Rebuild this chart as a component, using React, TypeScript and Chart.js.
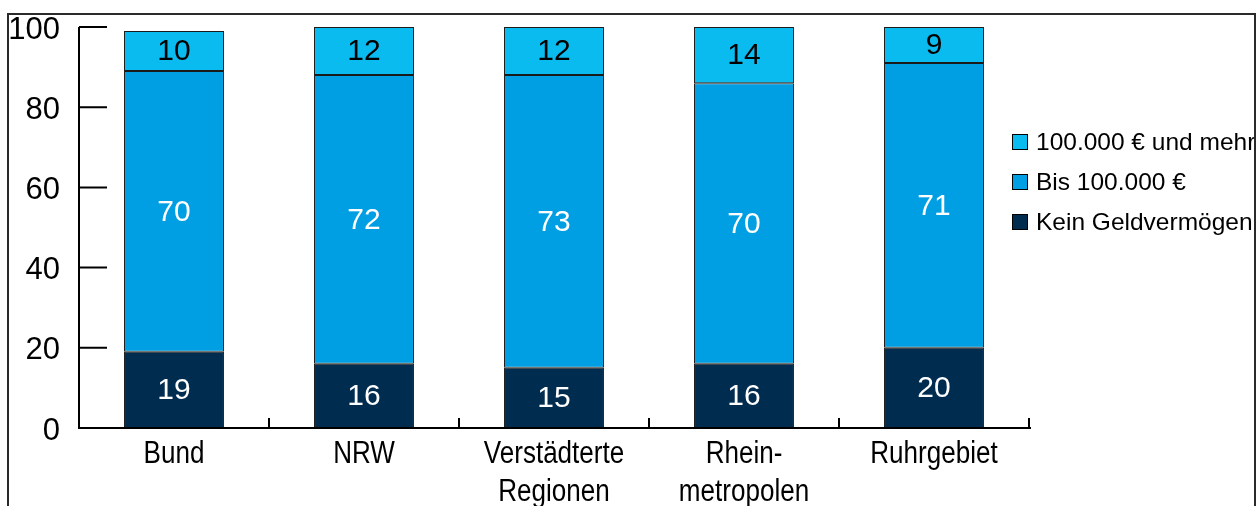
import React, { useEffect, useRef } from "react";
import { Chart, registerables } from "chart.js";

Chart.register(...registerables);

const categories: (string | string[])[] = [
  "Bund",
  "NRW",
  ["Verstädterte", "Regionen"],
  ["Rhein-", "metropolen"],
  "Ruhrgebiet",
];
const keinGeldvermoegen = [19, 16, 15, 16, 20];
const bis100k = [70, 72, 73, 70, 71];
const ab100k = [10, 12, 12, 14, 9];
const seriesLabels = ["Kein Geldvermögen", "Bis 100.000 €", "100.000 € und mehr"];
const yTicks = [0, 20, 40, 60, 80, 100];

const COLORS = ["#002C50", "#009FE3", "#0ABBEF"];
const LABEL_COLORS = ["#ffffff", "#ffffff", "#000000"];
const SANS = '"Liberation Sans", Arial, sans-serif';

const framePlugin = {
  id: "frame",
  beforeDraw(chart: any) {
    const ctx = chart.ctx;
    ctx.save();
    ctx.fillStyle = "#ffffff";
    ctx.fillRect(0, 0, chart.width, chart.height);
    ctx.restore();
  },
  afterDraw(chart: any) {
    const ctx = chart.ctx;
    ctx.save();
    ctx.strokeStyle = "#2a2a2a";
    ctx.lineWidth = 2;
    ctx.beginPath();
    ctx.moveTo(8, chart.height + 10);
    ctx.lineTo(8, 14);
    ctx.lineTo(1255, 14);
    ctx.lineTo(1255, chart.height + 10);
    ctx.stroke();
    ctx.restore();
  },
};

const axesPlugin = {
  id: "customAxes",
  afterDatasetsDraw(chart: any) {
    const ctx = chart.ctx;
    const x = chart.scales.x;
    const y = chart.scales.y;
    const left = chart.chartArea.left;
    const bottom = y.getPixelForValue(0);
    const top = y.getPixelForValue(100);
    ctx.save();
    ctx.strokeStyle = "#000000";
    ctx.lineWidth = 2;
    ctx.beginPath();
    ctx.moveTo(left, top);
    ctx.lineTo(left, bottom);
    const right = x.getPixelForValue(categories.length - 0.5) + 2;
    ctx.lineTo(right, bottom);
    ctx.stroke();
    ctx.beginPath();
    yTicks.forEach((v) => {
      const py = y.getPixelForValue(v);
      ctx.moveTo(left, py);
      ctx.lineTo(left + 28, py);
    });
    for (let i = 1; i <= categories.length; i++) {
      const px = x.getPixelForValue(i - 0.5);
      ctx.moveTo(px, bottom);
      ctx.lineTo(px, bottom - 10);
    }
    ctx.stroke();

    // category labels, drawn condensed (Arial Narrow look)
    ctx.fillStyle = "#000000";
    ctx.font = `31px ${SANS}`;
    ctx.textAlign = "center";
    ctx.textBaseline = "alphabetic";
    categories.forEach((lab, i) => {
      const lines = Array.isArray(lab) ? lab : [lab];
      const px = x.getPixelForValue(i);
      lines.forEach((ln, li) => {
        ctx.save();
        ctx.translate(px, bottom + 35 + li * 38);
        ctx.scale(0.84, 1);
        ctx.fillText(ln, 0, 0);
        ctx.restore();
      });
    });
    ctx.restore();
  },
};

const dataLabelPlugin = {
  id: "dataLabels",
  afterDatasetsDraw(chart: any) {
    const ctx = chart.ctx;
    ctx.save();
    ctx.font = `30px ${SANS}`;
    ctx.textAlign = "center";
    ctx.textBaseline = "middle";
    chart.data.datasets.forEach((ds: any, di: number) => {
      const meta = chart.getDatasetMeta(di);
      meta.data.forEach((el: any, i: number) => {
        const cy = (el.y + el.base) / 2;
        ctx.fillStyle = LABEL_COLORS[di];
        ctx.fillText(String(ds.data[i]), el.x, cy + 1);
      });
    });
    ctx.restore();
  },
};

const legendPlugin = {
  id: "customLegend",
  afterDraw(chart: any) {
    const ctx = chart.ctx;
    ctx.save();
    ctx.beginPath();
    ctx.rect(0, 0, 1254, chart.height);
    ctx.clip();
    ctx.font = `24.5px ${SANS}`;
    ctx.textBaseline = "middle";
    ctx.textAlign = "left";
    const order = [2, 1, 0];
    order.forEach((di, row) => {
      const cy = 142 + row * 40;
      ctx.fillStyle = COLORS[di];
      ctx.fillRect(1012, cy - 8, 16, 16);
      ctx.strokeStyle = "#000000";
      ctx.lineWidth = 1;
      ctx.strokeRect(1012.5, cy - 7.5, 15, 15);
      ctx.fillStyle = "#000000";
      ctx.fillText(chart.data.datasets[di].label, 1036, cy + 1);
    });
    ctx.restore();
  },
};

export default function App() {
  const ref = useRef<HTMLCanvasElement | null>(null);
  useEffect(() => {
    if (!ref.current) return;
    const mk = (label: string, data: number[], i: number) => ({
      label,
      data,
      backgroundColor: COLORS[i],
      borderColor: "#1a1a1a",
      borderWidth: 1,
      borderSkipped: false,
      categoryPercentage: 1,
      barPercentage: 0.526,
    });
    const chart = new Chart(ref.current, {
      type: "bar",
      data: {
        labels: categories,
        datasets: [
          mk(seriesLabels[0], keinGeldvermoegen, 0),
          mk(seriesLabels[1], bis100k, 1),
          mk(seriesLabels[2], ab100k, 2),
        ],
      },
      options: {
        responsive: false,
        animation: false,
        devicePixelRatio: 1,
        layout: { padding: { left: 8, top: 27, right: 230, bottom: 0 } },
        plugins: { legend: { display: false }, tooltip: { enabled: false } },
        scales: {
          x: {
            stacked: true,
            grid: { display: false, drawTicks: false },
            border: { display: false },
            ticks: { display: false },
            afterFit(scale: any) {
              scale.height = 78;
              scale.paddingLeft = 0;
              scale.paddingRight = 0;
            },
          },
          y: {
            stacked: true,
            min: 0,
            max: 100,
            grid: { display: false, drawTicks: false },
            border: { display: false },
            ticks: {
              stepSize: 20,
              color: "#000000",
              padding: 19,
              labelOffset: 3,
              font: { family: SANS, size: 31 },
            },
            afterFit(scale: any) {
              scale.width = 71;
              scale.paddingTop = 0;
              scale.paddingBottom = 0;
            },
          },
        },
      },
      plugins: [framePlugin, axesPlugin, dataLabelPlugin, legendPlugin],
    });
    return () => chart.destroy();
  }, []);
  return (
    <div style={{ position: "absolute", left: 0, top: 0, width: 1259, height: 506 }}>
      <canvas ref={ref} width={1259} height={506} />
    </div>
  );
}
